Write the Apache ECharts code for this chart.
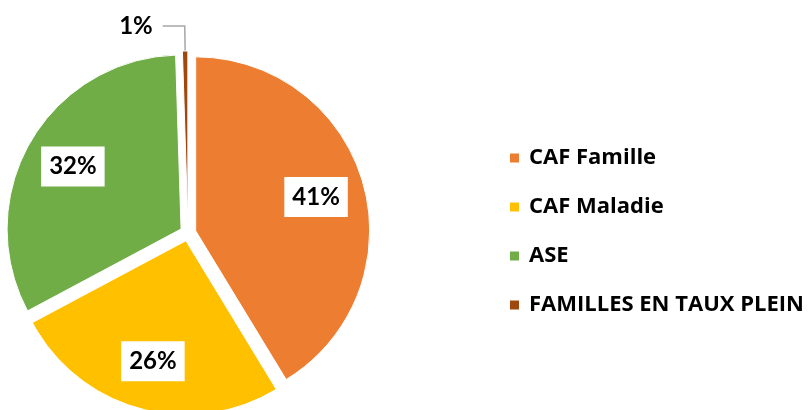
<!DOCTYPE html>
<html>
<head>
<meta charset="utf-8">
<script src="https://cdn.jsdelivr.net/npm/echarts@6/dist/echarts.min.js"></script>
<style>
  html, body { margin: 0; padding: 0; background: #fff; }
  #chart { width: 809px; height: 410px; }
</style>
</head>
<body>
<div id="chart"></div>
<script>
// parts (share of total, %)
const categories = ['CAF Famille', 'CAF Maladie', 'ASE', 'FAMILLES EN TAUX PLEIN']
const shares = [41.3, 25.9, 32.3, 0.5]
const colors = ['#ED7D31', '#FFC000', '#70AD47', '#9E480E']

const center = [188, 233]
const radius = 174
const offset = 8
const fontFamily = 'Lato, "Open Sans", sans-serif'

const chart = echarts.init(document.getElementById('chart'))

// small slices get the label outside with a leader line
const drawData = categories.map((name, i) => ({
  name: name,
  value: shares[i],
  selected: true,
  itemStyle: { color: colors[i] },
  label: { show: shares[i] < 3 },
  labelLine: { show: shares[i] < 3 }
}))

// transparent ring only used to place the inside labels further out
const labelData = categories.map((name, i) => ({
  name: name,
  value: shares[i],
  selected: true,
  label: { show: shares[i] >= 3 }
}))

chart.setOption({
  animation: false,
  color: colors,
  legend: {
    orient: 'vertical',
    left: 508,
    top: 147,
    padding: 0,
    itemWidth: 11,
    itemHeight: 11,
    itemGap: 27,
    icon: 'rect',
    selectedMode: false,
    data: categories,
    textStyle: {
      fontFamily: '"Open Sans", sans-serif',
      fontSize: 22,
      fontWeight: 'bold',
      color: '#000',
      padding: [0, 0, 0, 4]
    }
  },
  series: [
    {
      name: 'parts',
      type: 'pie',
      center: center,
      radius: radius,
      startAngle: 90,
      clockwise: true,
      selectedMode: 'multiple',
      selectedOffset: offset,
      avoidLabelOverlap: false,
      silent: true,
      itemStyle: { borderColor: '#fff', borderWidth: 1 },
      label: {
        position: 'outside',
        formatter: '{d}%',
        fontFamily: fontFamily,
        fontSize: 24,
        fontWeight: 'bold',
        color: '#000',
        distanceToLabelLine: 10
      },
      labelLine: {
        length: 25,
        length2: 22,
        lineStyle: { color: '#A6A6A6', width: 1.5 }
      },
      percentPrecision: 0,
      data: drawData
    },
    {
      name: 'labels',
      type: 'pie',
      center: center,
      radius: [70, radius],
      startAngle: 90,
      clockwise: true,
      selectedMode: 'multiple',
      selectedOffset: offset,
      avoidLabelOverlap: false,
      silent: true,
      itemStyle: { color: 'rgba(0,0,0,0)' },
      label: {
        position: 'inside',
        formatter: '{d}%',
        fontFamily: fontFamily,
        fontSize: 24,
        fontWeight: 'bold',
        color: '#000',
        backgroundColor: '#fff',
        lineHeight: 24,
        padding: [8, 8]
      },
      labelLine: { show: false },
      percentPrecision: 0,
      data: labelData
    }
  ]
})
</script>
</body>
</html>
